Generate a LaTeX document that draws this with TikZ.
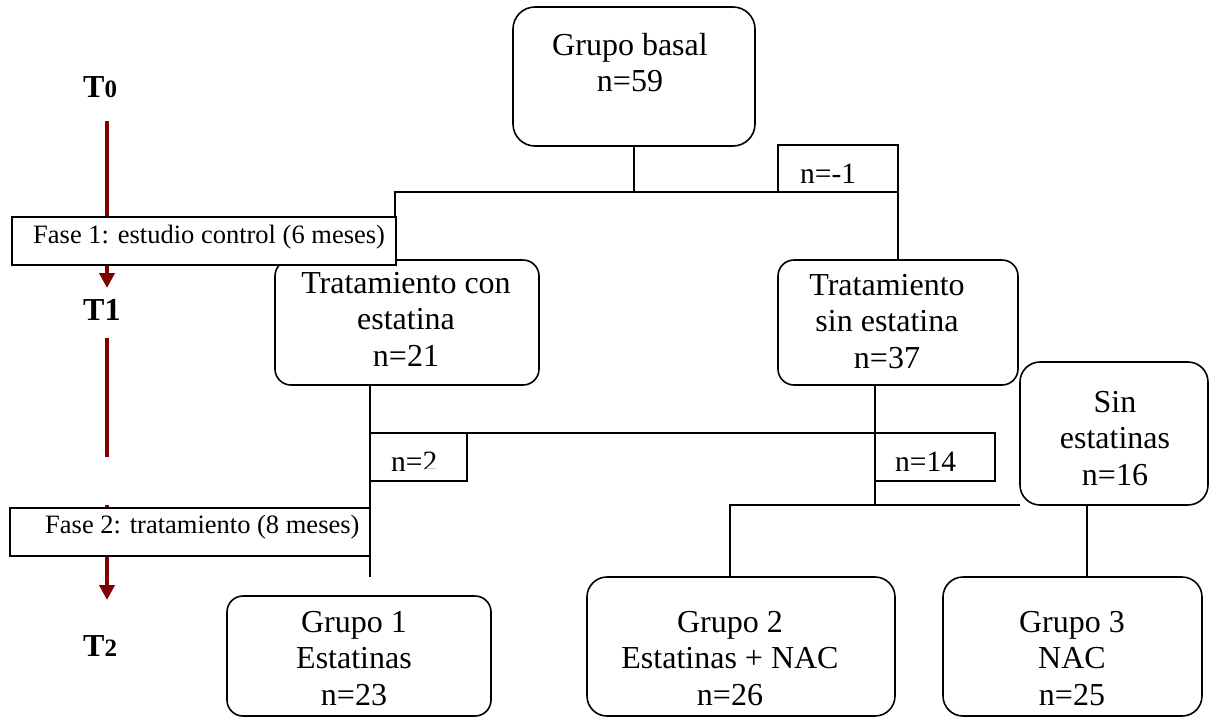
\documentclass[tikz,border=0pt]{standalone}
\usepackage{fontspec}
\setmainfont{Liberation Serif}
\usetikzlibrary{arrows.meta}
\definecolor{timered}{HTML}{800000}

\tikzset{
  rbox/.style={draw, line width=1.6pt, rounded corners=16pt, fill=white, inner sep=0pt, outer sep=0pt},
  sqbox/.style={draw, line width=1.6pt, fill=white, inner sep=0pt, outer sep=0pt},
  boxtext/.style={anchor=north, inner sep=0pt, align=center, font=\fontsize{32}{36.5}\selectfont},
  ntext/.style={anchor=base west, inner sep=0pt, font=\fontsize{29.5}{32}\selectfont},
  fasetext/.style={anchor=base west, inner sep=0pt, font=\fontsize{26.5}{30}\selectfont},
  ttext/.style={anchor=base west, inner sep=0pt, font=\fontsize{32}{36}\selectfont\bfseries},
  conn/.style={line width=1.5pt},
  timeline/.style={line width=4.5pt, draw=timered},
  timearrow/.style={timeline, -{Triangle[width=15pt,length=15pt]}, fill=timered}
}
\newcommand{\firstline}{\rule{0pt}{25.5pt}}

\begin{document}
\begin{tikzpicture}[x=1pt, y=-1pt]
\useasboundingbox (0,0) rectangle (1210,718);

% time axis on the left
\coordinate (a0) at (107,121);
\coordinate (a1) at (107,288);
\coordinate (b0) at (107,338);
\coordinate (b1) at (107,457);
\coordinate (c0) at (107,505);
\coordinate (c1) at (107,600);
\draw[timearrow] (a0) -- (a1);
\draw[timeline] (b0) -- (b1);
\draw[timearrow] (c0) -- (c1);

\node[ttext] (t0) at (83,97) {T{\fontsize{25}{25}\selectfont 0}};
\node[ttext] (t1) at (83,320) {T1};
\node[ttext] (t2) at (83,656) {T{\fontsize{25}{25}\selectfont 2}};

% boxes
\node[rbox, rounded corners=22pt, minimum width=242pt, minimum height=139pt] (basal) at (634,76.5) {};
\node[sqbox, minimum width=120pt, minimum height=47pt] (nm1) at (838,168.5) {};
\node[rbox, minimum width=264pt, minimum height=125pt] (tcon) at (407,322.5) {};
\node[rbox, minimum width=240pt, minimum height=125pt] (tsin) at (898,322.5) {};
\node[rbox, rounded corners=20pt, minimum width=188pt, minimum height=143pt] (sin) at (1114,433.5) {};
\node[rbox, minimum width=264pt, minimum height=120pt] (g1) at (359,656) {};
\node[rbox, rounded corners=20pt, minimum width=308pt, minimum height=139pt] (g2) at (741,646.5) {};
\node[rbox, rounded corners=20pt, minimum width=259pt, minimum height=139pt] (g3) at (1072.5,646.5) {};

% connectors
\coordinate (jl) at (395,192);
\coordinate (jc) at (370,577);
\coordinate (jr) at (875,505);
\coordinate (jg2) at (730,505);
\coordinate (jg3) at (1087,505);
\draw[conn] (basal.south) -- (basal.south |- nm1.south);
\draw[conn] (jl |- 0,217) -- (jl) -- (nm1.south east) -- (tsin.north);
\draw[conn] (jc |- tcon.south) -- (jc);
\draw[conn] (jr |- tsin.south) -- (jr);
\draw[conn] (sin.south west) -- (jg2) -- (jg2 |- g2.north);
\draw[conn] (jg3) -- (jg3 |- g3.north);

\node[sqbox, minimum width=97pt, minimum height=48pt] (n2) at (418.5,457) {};
\node[sqbox, minimum width=120pt, minimum height=48pt] (n14) at (935,457) {};
\draw[conn] (n2.north west) -- (n14.north west);
\draw[sqbox] (nm1.north west) rectangle (nm1.south east);

% phase boxes
\node[sqbox, minimum width=384pt, minimum height=48pt] (fase1) at (204,241) {};
\node[sqbox, minimum width=360pt, minimum height=48pt] (fase2) at (190,532) {};

% texts
\node[boxtext] (basal-t) at (630,55-25.5) {\firstline Grupo basal\\n=59};
\node[boxtext] (tcon-t) at (406,293-25.5) {\firstline Tratamiento con\\estatina\\n=21};
\node[boxtext] (tsin-t) at (887,295-25.5) {\firstline Tratamiento\\sin estatina\\n=37};
\node[boxtext] (sin-t) at (1115,412-25.5) {\firstline Sin\\estatinas\\n=16};
\node[boxtext] (g1-t) at (354,632-25.5) {\firstline Grupo 1\\Estatinas\\n=23};
\node[boxtext] (g2-t) at (730,632-25.5) {\firstline Grupo 2\\Estatinas + NAC\\n=26};
\node[boxtext] (g3-t) at (1072,632-25.5) {\firstline Grupo 3\\NAC\\n=25};

\node[ntext] (nm1-t) at (800,183) {n=-1};
\node[ntext] (n14-t) at (895,471) {n=14};
% the last digit of this label is cut along its foot
\begin{scope}
  \clip (380,436) rectangle (422,479) (422,436) rectangle (465,468.5);
  \node[ntext] (n2-t) at (391,471) {n=2};
\end{scope}

\node[fasetext] (fase1-t) at (33,243) {Fase 1: estudio control (6 meses)};
\node[fasetext] (fase2-t) at (45,533) {Fase 2: tratamiento (8 meses)};
\end{tikzpicture}
\end{document}
